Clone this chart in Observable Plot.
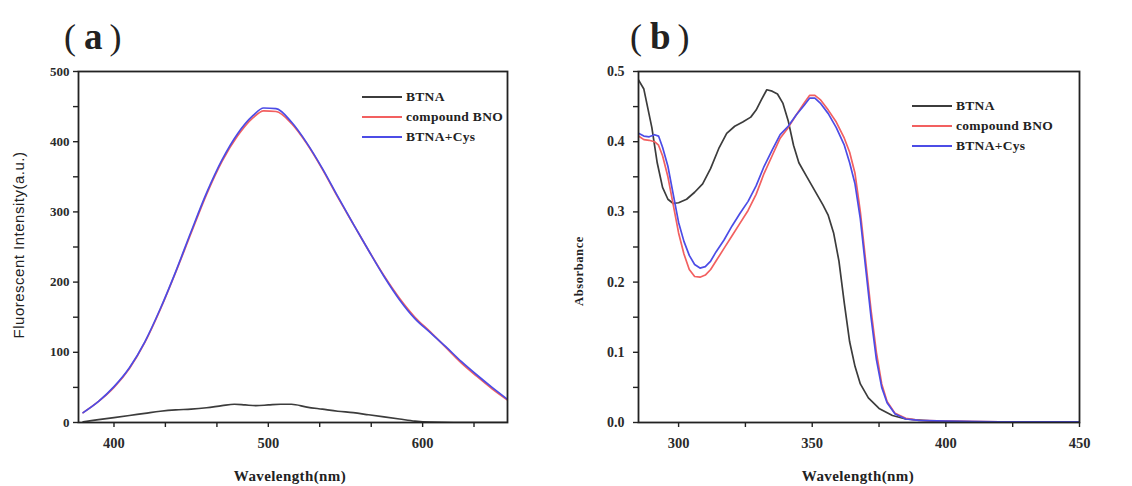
<!DOCTYPE html>
<html>
<head>
<meta charset="utf-8">
<script src="https://cdn.jsdelivr.net/npm/d3@7"></script>
<script src="https://cdn.jsdelivr.net/npm/@observablehq/plot@0.6"></script>
<style>
  html, body { margin: 0; padding: 0; background: #fff; }
  #wrap { position: relative; width: 1132px; height: 486px; overflow: hidden; font-family: "Liberation Serif", serif; color: #222; }
  .panel { position: absolute; top: 0; }
  .title { position: absolute; font-size: 36px; line-height: 1; white-space: nowrap; display: flex; align-items: baseline; }
  .title .p { font-family: "Liberation Serif", serif; font-weight: normal; font-size: 36px; }
  .title .l { font-family: "Liberation Serif", serif; font-weight: bold; font-size: 37px; margin: 0 7px 0 8px; }
  .xlab { position: absolute; font: bold 15px "Liberation Serif", serif; letter-spacing: 0.4px; transform: translate(-50%, -50%); white-space: nowrap; }
  .ylab { position: absolute; transform: translate(-50%, -50%) rotate(-90deg); white-space: nowrap; }
  .legend { position: absolute; font: bold 13.5px "Liberation Serif", serif; letter-spacing: 0.3px; }
  .legend .row { position: relative; height: 20px; display: flex; align-items: center; }
  .legend .sw { width: 40px; height: 0; border-top: 2px solid; margin-right: 4px; }
</style>
</head>
<body>
<div id="wrap"></div>
<script>
// ---------- Data ----------
const seriesNames = ["BTNA", "compound BNO", "BTNA+Cys"];
const seriesColors = ["#3c3c3c", "#f26060", "#4c4ce6"];

// Panel (a): fluorescence
const waveA_btna = [380,390,400,410,420,430,440,450,460,470,478,485,492,500,508,515,525,535,545,555,565,575,585,595,605,620,640,655];
const intA_btna  = [1,4,7,10,13,16,18,19,21,24,26,25,24,25,26,26,22,19,16,14,11,8,5,2,0.5,0,0,0];
const waveA = [380,390,400,410,420,430,440,450,460,470,480,490,497,505,515,525,535,545,555,565,575,585,595,605,615,625,635,645,655];
const intA_bno = [14,30,50,77,114,161,214,270,325,372,408,434,444,443,426,397,361,321,283,245,209,177,150,129,107,85,66,48,32];
const intA_cys = [14,30,51,78,115,162,215,272,327,374,411,437,448,447,428,398,362,322,283,245,208,175,148,128,108,87,68,50,33];

const xTicksA = [400, 500, 600];
const xMinorA = [433.3, 466.7, 533.3, 566.7, 633.3];
const yTicksA = [0, 100, 200, 300, 400, 500];
const yMinorA = [50, 150, 250, 350, 450];

// Panel (b): absorbance
const waveB_btna = [285,287,290,292,294,296,298,300,303,306,309,312,315,318,321,324,327,329,331,333,335,337,339,341,343,345,348,351,354,356,358,360,362,364,366,368,371,375,380,385,395,410,450];
const absB_btna  = [0.488,0.475,0.42,0.37,0.335,0.318,0.312,0.313,0.318,0.328,0.34,0.362,0.39,0.412,0.422,0.428,0.435,0.445,0.46,0.474,0.472,0.468,0.455,0.43,0.395,0.37,0.35,0.33,0.31,0.295,0.27,0.23,0.17,0.115,0.08,0.055,0.035,0.02,0.01,0.005,0.002,0.001,0.001];
const waveB = [285,287,289,291,292.5,294,296,298,300,302,304,306,308,310,312,314,317,320,323,326,329,332,335,338,341,344,347,349,351,353,356,359,362,364,366,368,370,372,374,376,378,381,385,390,400,420,450];
const absB_bno = [0.408,0.403,0.402,0.4,0.395,0.38,0.35,0.31,0.27,0.24,0.218,0.208,0.207,0.21,0.218,0.23,0.248,0.266,0.284,0.302,0.325,0.355,0.38,0.405,0.42,0.438,0.455,0.466,0.466,0.46,0.445,0.428,0.405,0.385,0.355,0.3,0.23,0.16,0.1,0.055,0.03,0.013,0.006,0.003,0.002,0.001,0.001];
const absB_cys = [0.412,0.408,0.407,0.41,0.408,0.392,0.365,0.325,0.285,0.258,0.238,0.225,0.22,0.222,0.23,0.243,0.26,0.28,0.298,0.315,0.337,0.365,0.388,0.41,0.422,0.438,0.452,0.462,0.462,0.455,0.44,0.42,0.395,0.37,0.34,0.29,0.22,0.15,0.09,0.05,0.028,0.012,0.005,0.003,0.002,0.001,0.001];

const xTicksB = [300, 350, 400, 450];
const xMinorB = [325, 375, 425];
const yTicksB = [0, 0.1, 0.2, 0.3, 0.4, 0.5];
const yMinorB = [0.05, 0.15, 0.25, 0.35, 0.45];

// ---------- Build rows ----------
const zipRows = (xs, ys, s) => xs.map((x, i) => ({x, y: ys[i], s}));
const rowsA = [
  ...zipRows(waveA_btna, intA_btna, seriesNames[0]),
  ...zipRows(waveA, intA_bno, seriesNames[1]),
  ...zipRows(waveA, intA_cys, seriesNames[2])
];
const rowsB = [
  ...zipRows(waveB_btna, absB_btna, seriesNames[0]),
  ...zipRows(waveB, absB_bno, seriesNames[1]),
  ...zipRows(waveB, absB_cys, seriesNames[2])
];

function panel({rows, width, marginLeft, marginRight, xDomain, yDomain, xTicks, xMinor, yTicks, yMinor, yFormat, yFont, yPad, curve}) {
  const common = {stroke: "#222", strokeWidth: 1.4};
  return Plot.plot({
    width, height: 486,
    marginTop: 71, marginBottom: 64, marginLeft, marginRight,
    style: {fontFamily: "Liberation Serif, serif", fontWeight: "bold", fontSize: "14px", color: "#2a2a2a", background: "transparent", overflow: "visible"},
    x: {domain: xDomain},
    y: {domain: yDomain},
    color: {domain: seriesNames, range: seriesColors},
    marks: [
      Plot.axisX({ticks: xTicks, tickSize: 5, tickPadding: 10, label: null, ...common, fontSize: 14.5}),
      Plot.axisX({ticks: xMinor, tickSize: 5, tickFormat: () => "", label: null, ...common}),
      Plot.axisY({ticks: yTicks, tickSize: 5, tickPadding: yPad, label: null, tickFormat: yFormat, ...common, fontSize: yFont}),
      Plot.axisY({ticks: yMinor, tickSize: 5, tickFormat: () => "", label: null, ...common}),
      Plot.line(rows, {x: "x", y: "y", z: "s", stroke: "s", strokeWidth: 1.7, clip: true, curve}),
      Plot.frame({stroke: "#222", strokeWidth: 1.8})
    ]
  });
}

const wrap = document.getElementById("wrap");

const plotA = panel({rows: rowsA, width: 566, marginLeft: 78, marginRight: 59,
  xDomain: [377, 655], yDomain: [0, 500], xTicks: xTicksA, xMinor: xMinorA,
  yTicks: yTicksA, yMinor: yMinorA, yFormat: d3.format("d"), yFont: 13, yPad: 4, curve: "monotone-x"});
plotA.classList.add("panel");
plotA.style.left = "0px";
wrap.appendChild(plotA);

const plotB = panel({rows: rowsB, width: 566, marginLeft: 72, marginRight: 53,
  xDomain: [285, 450], yDomain: [0, 0.5], xTicks: xTicksB, xMinor: xMinorB,
  yTicks: yTicksB, yMinor: yMinorB, yFormat: d3.format(".1f"), yFont: 14, yPad: 9, curve: "linear"});
plotB.classList.add("panel");
plotB.style.left = "566px";
wrap.appendChild(plotB);

// ---------- Text: titles, axis labels, legends ----------
function addTitle(letter, left) {
  const t = document.createElement("div");
  t.className = "title";
  t.style.left = left + "px";
  t.style.top = "18px";
  t.innerHTML = `<span class="p">(</span><span class="l">${letter}</span><span class="p">)</span>`;
  wrap.appendChild(t);
}
addTitle("a", 64);
addTitle("b", 630);

function addXLabel(text, cx) {
  const d = document.createElement("div");
  d.className = "xlab";
  d.style.left = cx + "px";
  d.style.top = "476px";
  d.textContent = text;
  wrap.appendChild(d);
}
addXLabel("Wavelength(nm)", 290);
addXLabel("Wavelength(nm)", 858);

function addYLabel(text, cx, cy, font, ls) {
  const d = document.createElement("div");
  d.className = "ylab";
  d.style.left = cx + "px";
  d.style.top = cy + "px";
  d.style.font = font;
  d.style.letterSpacing = ls;
  d.textContent = text;
  wrap.appendChild(d);
}
addYLabel("Fluorescent Intensity(a.u.)", 18, 245, "15px 'Liberation Sans', Arial, sans-serif", "0.5px");
addYLabel("Absorbance", 579, 271, "bold 12.5px 'Liberation Serif', serif", "0.6px");

function addLegend(left, top) {
  const lg = document.createElement("div");
  lg.className = "legend";
  lg.style.left = left + "px";
  lg.style.top = top + "px";
  seriesNames.forEach((name, i) => {
    const r = document.createElement("div");
    r.className = "row";
    const sw = document.createElement("span");
    sw.className = "sw";
    sw.style.borderTopColor = seriesColors[i];
    const tx = document.createElement("span");
    tx.textContent = name;
    r.appendChild(sw); r.appendChild(tx);
    lg.appendChild(r);
  });
  wrap.appendChild(lg);
}
addLegend(362, 87);
addLegend(912, 96);
</script>
</body>
</html>
